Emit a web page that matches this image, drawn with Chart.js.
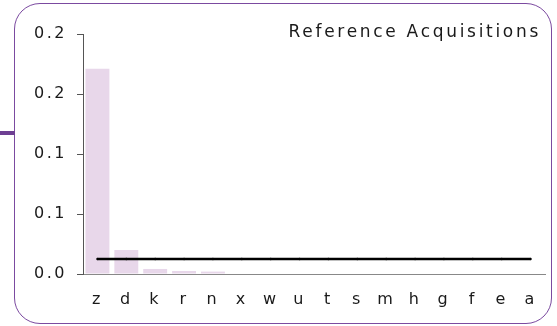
<!DOCTYPE html>
<html>
<head>
<meta charset="utf-8">
<script src="https://cdn.jsdelivr.net/npm/chart.js@4.4.1/dist/chart.umd.min.js"></script>
<style>
  html, body { margin: 0; padding: 0; background: #fff; }
  #wrap { position: relative; width: 557px; height: 326px; }
  #frame {
    position: absolute; left: 14px; top: 3px; width: 536px; height: 319px;
    border: 1.5px solid #7b4aa0; border-radius: 26px;
  }
  #stub { position: absolute; left: 0; top: 131px; width: 15px; height: 4px; background: #6e3f93; }
  #title {
    position: absolute; right: 16px; top: 22px;
    font: 17px "DejaVu Sans", sans-serif; letter-spacing: 2.7px; color: #1a1a1a;
    line-height: 18px; white-space: nowrap;
  }
  canvas { position: absolute; left: 0; top: 0; }
</style>
</head>
<body>
<div id="wrap">
  <div id="frame"></div>
  <div id="stub"></div>
  <canvas id="myChart" width="557" height="326"></canvas>
  <div id="title">Reference Acquisitions</div>
</div>
<script>
const categories = ["z", "d", "k", "r", "n", "x", "w", "u", "t", "s", "m", "h", "g", "f", "e", "a"];
const acquisitions = [0.171, 0.020, 0.0042, 0.0025, 0.002, 0, 0, 0, 0, 0, 0, 0, 0, 0, 0, 0];
const referenceLine = [0.0125, 0.0125, 0.0125, 0.0125, 0.0125, 0.0125, 0.0125, 0.0125,
                       0.0125, 0.0125, 0.0125, 0.0125, 0.0125, 0.0125, 0.0125, 0.0125];
const yTickLabels = ["0.0", "0.1", "0.1", "0.2", "0.2"];

Chart.defaults.font.family = '"DejaVu Sans", sans-serif';
Chart.defaults.font.size = 16;
Chart.defaults.color = '#1a1a1a';

const spacing = {
    id: 'spacing',
    beforeDraw(chart) {
        chart.ctx.letterSpacing = '2.5px';
    }
};

const ctx = document.getElementById('myChart');

const config = {
    type: 'bar',
    data: {
        labels: categories,
        datasets: [{
            type: 'line',
            data: referenceLine,
            borderColor: '#000',
            borderWidth: 2.5,
            pointRadius: 1.2,
            pointBackgroundColor: '#000',
            pointBorderWidth: 0,
            order: 0
        }, {
            data: acquisitions,
            backgroundColor: '#e8d7ea',
            barPercentage: 0.9,
            categoryPercentage: 0.92,
            order: 1
        }]
    },
    options: {
        responsive: false,
        animation: false,
        layout: {
            padding: { left: 0, top: 34, right: 12, bottom: 0 }
        },
        plugins: {
            legend: { display: false },
            tooltip: { enabled: false },
            title: { display: false }
        },
        scales: {
            x: {
                grid: { display: false, drawTicks: false },
                border: { color: '#888', width: 1 },
                ticks: { padding: 16, maxRotation: 0, autoSkip: false },
                afterFit(scale) { scale.height = 52; }
            },
            y: {
                min: 0,
                max: 0.2,
                grid: { drawOnChartArea: false, tickLength: 6, color: '#555' },
                border: { color: '#555', width: 1 },
                ticks: {
                    stepSize: 0.05,
                    padding: 10,
                    callback: (v, i) => yTickLabels[i]
                },
                afterFit(scale) { scale.width = 83; }
            }
        }
    },
    plugins: [spacing]
};

let myChart = new Chart(ctx, config);
</script>
</body>
</html>
